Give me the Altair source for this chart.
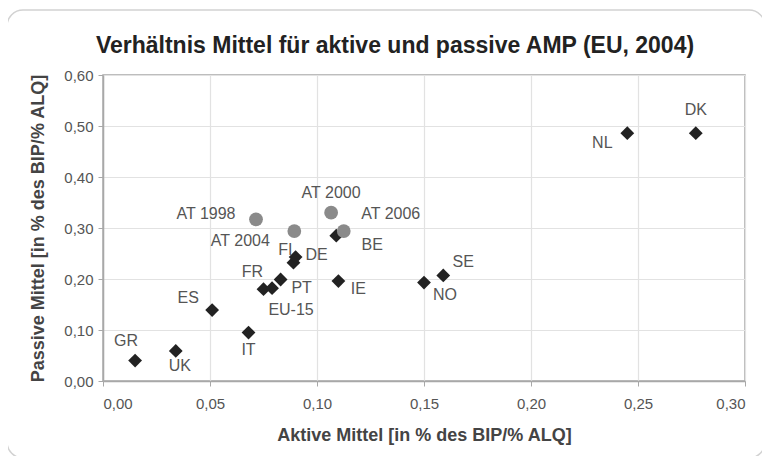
import altair as alt
import pandas as pd

# Länder (Rauten)
countries = ["GR", "UK", "ES", "IT", "FR", "EU-15", "PT", "FI", "DE", "BE", "IE", "NO", "SE", "NL", "DK"]
aktiv = [0.015, 0.034, 0.051, 0.068, 0.075, 0.079, 0.083, 0.089, 0.090, 0.109, 0.110, 0.150, 0.159, 0.245, 0.277]
passiv = [0.040, 0.059, 0.139, 0.095, 0.180, 0.182, 0.199, 0.232, 0.243, 0.285, 0.196, 0.193, 0.207, 0.486, 0.486]

# Österreich, verschiedene Jahre (Kreise)
at_labels = ["AT 1998", "AT 2000", "AT 2004", "AT 2006"]
at_aktiv = [0.0715, 0.1066, 0.0894, 0.1125]
at_passiv = [0.317, 0.330, 0.294, 0.294]

x_ticks = [0.0, 0.05, 0.10, 0.15, 0.20, 0.25, 0.30]
y_ticks = [0.0, 0.1, 0.2, 0.3, 0.4, 0.5, 0.6]

# label placement (pixel offsets of the label centre from the point)
label_offsets = {
    "GR": (-9, -20), "UK": (4, 15), "ES": (-24, -12), "IT": (0, 17),
    "FR": (-11, -17), "EU-15": (19, 22), "PT": (21, 8), "FI": (-8, -13),
    "DE": (21, -2), "BE": (36, 9), "IE": (20, 8), "NO": (21, 12),
    "SE": (20, -13), "NL": (-25, 10), "DK": (0, -23),
    "AT 1998": (-50, -5), "AT 2000": (0, -20), "AT 2004": (-54, 10), "AT 2006": (47, -17),
}

df_c = pd.DataFrame({"label": countries, "aktiv": aktiv, "passiv": passiv})
df_at = pd.DataFrame({"label": at_labels, "aktiv": at_aktiv, "passiv": at_passiv})
df_all = pd.concat([df_c, df_at], ignore_index=True)

FONT = "Liberation Sans"
W, H = 642, 306

xs = alt.X("aktiv:Q", scale=alt.Scale(domain=[0, 0.30], nice=False),
           axis=alt.Axis(values=x_ticks, title="Aktive Mittel [in % des BIP/% ALQ]",
                         labelExpr="replace(format(datum.value, '.2f'), '.', ',')"))
ys = alt.Y("passiv:Q", scale=alt.Scale(domain=[0, 0.60], nice=False),
           axis=alt.Axis(values=y_ticks, title="Passive Mittel [in % des BIP/% ALQ]",
                         labelExpr="replace(format(datum.value, '.2f'), '.', ',')"))

frame = alt.Chart(pd.DataFrame({"f": [0]})).mark_rect(
    fillOpacity=0, stroke="#d2d2d2", strokeWidth=1.5, cornerRadius=16
).encode(
    x=alt.value(-96), x2=alt.value(W + 20), y=alt.value(-65), y2=alt.value(H + 77)
)

diamonds = alt.Chart(df_c).mark_point(
    shape="diamond", filled=True, size=190, color="#222222", opacity=1
).encode(x=xs, y=ys)

circles = alt.Chart(df_at).mark_point(
    shape="circle", filled=True, size=190, color="#8a8a8a", opacity=1
).encode(x=xs, y=ys)

texts = []
for lab, (dx, dy) in label_offsets.items():
    texts.append(
        alt.Chart(df_all).transform_filter(alt.datum.label == lab).mark_text(
            font=FONT, fontSize=16, color="#555555", dx=dx, dy=dy, align="center", baseline="middle"
        ).encode(x="aktiv:Q", y="passiv:Q", text="label:N")
    )

chart = alt.layer(frame, diamonds, circles, *texts).properties(
    width=W, height=H,
    title=alt.TitleParams("Verhältnis Mittel für aktive und passive AMP (EU, 2004)",
                          font=FONT, fontSize=23, fontWeight="bold", color="#222222",
                          offset=-72, baseline="bottom", dx=-29),
    autosize=alt.AutoSizeParams(type="none"),
    padding={"left": 95, "top": 67, "right": 17, "bottom": 75},
).configure_view(
    stroke="#a8a8a8", strokeWidth=1.5
).configure_axis(
    labelFont=FONT, labelFontSize=15, labelColor="#555555", labelPadding=5,
    titleFont=FONT, titleFontSize=18, titleFontWeight="bold", titleColor="#444444",
    gridColor="#e2e2e2", gridWidth=1.2, domainColor="#a8a8a8", domainWidth=1.5,
    tickColor="#a8a8a8", tickSize=5,
).configure_axisX(
    labelPadding=10, titlePadding=15
).configure_axisY(
    titlePadding=16
)

chart.save("out.html", embed_options={"renderer": "svg", "actions": False})
